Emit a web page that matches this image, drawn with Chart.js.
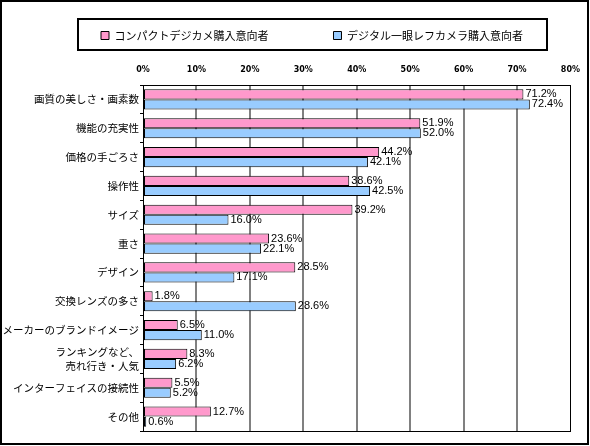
<!DOCTYPE html>
<html>
<head>
<meta charset="utf-8">
<script src="https://cdn.jsdelivr.net/npm/chart.js@4.4.1/dist/chart.umd.min.js"></script>
<style>
	body { margin: 0; background: #fff; }
	#wrap { width: 590px; height: 446px; }
</style>
</head>
<body>
<div id="wrap"><canvas id="surveyChart" width="590" height="446"></canvas></div>

<script type="text/javascript">

// 購入時に重視する点（%）
var categories = [
	"画質の美しさ・画素数",
	"機能の充実性",
	"価格の手ごろさ",
	"操作性",
	"サイズ",
	"重さ",
	"デザイン",
	"交換レンズの多さ",
	"メーカーのブランドイメージ",
	["ランキングなど、", "売れ行き・人気"],
	"インターフェイスの接続性",
	"その他"
];
var seriesNames = ["コンパクトデジカメ購入意向者", "デジタル一眼レフカメラ購入意向者"];
var compactValues = [71.2, 51.9, 44.2, 38.6, 39.2, 23.6, 28.5, 1.8, 6.5, 8.3, 5.5, 12.7];
var slrValues = [72.4, 52.0, 42.1, 42.5, 16.0, 22.1, 17.1, 28.6, 11.0, 6.2, 5.2, 0.6];
var xTicks = [0, 10, 20, 30, 40, 50, 60, 70, 80];

var jpFont = "'Noto Sans CJK JP', 'Noto Sans', sans-serif";

// 値ラベル（バーの右側）
var valueLabels = {
	id: 'valueLabels',
	afterDatasetsDraw: function(chart) {
		var ctx = chart.ctx;
		ctx.save();
		ctx.fillStyle = '#000';
		ctx.font = "11px 'Liberation Sans', sans-serif";
		ctx.textAlign = 'left';
		ctx.textBaseline = 'middle';
		chart.data.datasets.forEach(function(ds, i) {
			var meta = chart.getDatasetMeta(i);
			meta.data.forEach(function(bar, j) {
				ctx.fillText(ds.data[j].toFixed(1) + '%', bar.x + 2, bar.y);
			});
		});
		ctx.restore();
	}
};

// 凡例を右へ寄せる
var legendShift = {
	id: 'legendShift',
	afterLayout: function(chart) {
		if (chart.legend) chart.legend.left = 48;
	}
};

// 枠線（プロット枠・凡例枠・外枠）
var frames = {
	id: 'frames',
	afterDraw: function(chart) {
		var ctx = chart.ctx;
		var a = chart.chartArea;
		ctx.save();
		ctx.strokeStyle = '#000';
		ctx.lineWidth = 1;
		ctx.strokeRect(Math.round(a.left) + 0.5, Math.round(a.top) + 0.5,
			Math.round(a.right - a.left), Math.round(a.bottom - a.top));
		ctx.lineWidth = 2;
		ctx.strokeRect(78, 19, 469, 31);
		ctx.strokeRect(1, 1, 587, 443);
		ctx.restore();
	}
};

var ctx = document.getElementById("surveyChart").getContext('2d');
var myChart = new Chart(ctx, {
	type: 'bar',
	data: {
		labels: categories,
		datasets: [{
			label: seriesNames[0],
			data: compactValues,
			backgroundColor: '#FF99CC',
			borderColor: '#000',
			borderWidth: 1,
			borderSkipped: false
		}, {
			label: seriesNames[1],
			data: slrValues,
			backgroundColor: '#99CCFF',
			borderColor: '#000',
			borderWidth: 1,
			borderSkipped: false
		}]
	},
	options: {
		indexAxis: 'y',
		responsive: false,
		animation: false,
		devicePixelRatio: 1,
		categoryPercentage: 0.7,
		barPercentage: 1.0,
		layout: { padding: { top: 20, left: 0, right: 14, bottom: 15 } },
		plugins: {
			tooltip: { enabled: false },
			legend: {
				position: 'top',
				labels: {
					color: '#000',
					font: { family: jpFont, size: 11 },
					boxWidth: 8,
					boxHeight: 8,
					padding: 10,
					generateLabels: function(chart) {
						var items = Chart.defaults.plugins.legend.labels.generateLabels(chart);
						items[0].text = items[0].text + '\u3000\u3000\u3000\u3000\u3000';
						return items;
					}
				}
			}
		},
		scales: {
			x: {
				position: 'top',
				min: 0,
				max: 80,
				afterBuildTicks: function(scale) {
					scale.ticks = xTicks.map(function(v) { return { value: v }; });
				},
				afterFit: function(scale) { scale.height = 34; },
				ticks: {
					color: '#000',
					padding: 10,
					font: { family: "'DejaVu Sans', sans-serif", size: 8, weight: 'bold' },
					callback: function(v) { return v + '%'; }
				},
				grid: {
					drawTicks: false,
					color: function(c) {
						if (!c.tick || c.tick.value === 0 || c.tick.value === 80) return 'rgba(0,0,0,0)';
						return '#808080';
					},
					lineWidth: 2
				},
				border: { color: '#000' }
			},
			y: {
				afterFit: function(scale) { scale.width = 143; },
				ticks: {
					color: '#000',
					padding: 1,
					autoSkip: false,
					font: { family: jpFont, size: 10.5, lineHeight: 1.4 }
				},
				grid: {
					offset: true,
					drawOnChartArea: false,
					tickLength: 3,
					color: '#000'
				},
				border: { color: '#000' }
			}
		}
	},
	plugins: [valueLabels, legendShift, frames]
});
</script>
</body>
</html>
